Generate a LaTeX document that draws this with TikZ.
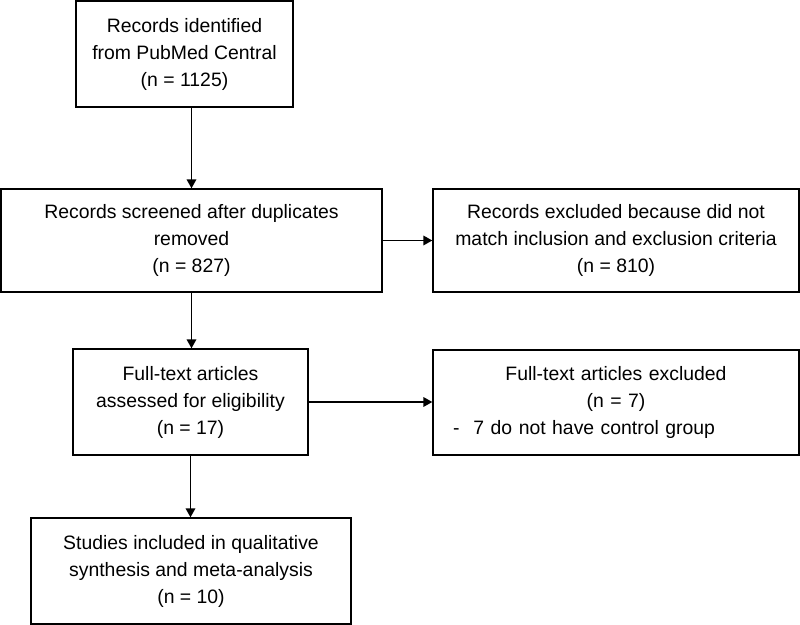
\documentclass[tikz,border=0pt]{standalone}
\usepackage{fontspec}
\setmainfont{Liberation Sans}
\usetikzlibrary{positioning,arrows.meta}
\tikzset{
flow/.style={
    >={Triangle[length=6.3pt,width=6.8pt]},
    line width=1pt,
    font=\fontsize{13.8}{19.2}\selectfont
},
record/.style={
    rectangle,
    draw,
    align=center,
    inner sep=0pt
},
leads/.style={
    ->
}}

\begin{document}
\begin{tikzpicture}[flow]
\useasboundingbox (0,0) rectangle (20,15.625);

\node[record,minimum width=5.425cm,minimum height=2.65cm]  (ident)  at (4.6125,14.275)
    {Records identified\\from PubMed Central\\(n = 1125)};
\node[record,minimum width=9.525cm,minimum height=2.575cm] (screen) at (4.7875,9.6125)
    {Records screened after duplicates\\removed\\(n = 827)};
\node[record,minimum width=9.15cm,minimum height=2.575cm]  (excl)   at (15.4,9.6125)
    {Records excluded because did not\\match inclusion and exclusion criteria\\(n = 810)};
\node[record,minimum width=5.875cm,minimum height=2.65cm]  (full)   at (4.7625,5.575)
    {Full-text articles\\assessed for eligibility\\(n = 17)};
\node[record,minimum width=9.15cm,minimum height=2.625cm,text width=8.65cm] (fexcl) at (15.4,5.5625)
    {Full-text articles excluded\\(n = 7)\\
     \makebox[\linewidth][l]{\hspace*{0.25cm}-\hspace{0.35cm}7 do not have control group}};
\node[record,minimum width=8cm,minimum height=2.65cm]      (incl)   at (4.775,1.35)
    {Studies included in qualitative\\synthesis and meta-analysis\\(n = 10)};

\path    (screen.north |- ident.south)  edge[leads]  (screen.north);
\path    (screen.south)                 edge[leads]  (screen.south |- full.north);
\path    (full.south)                   edge[leads]  (full.south |- incl.north);
\path    (screen.east)                  edge[leads]  (screen.east -| excl.west);
\path    (full.east)                    edge[leads]  (full.east -| fexcl.west);
\end{tikzpicture}
\end{document}
